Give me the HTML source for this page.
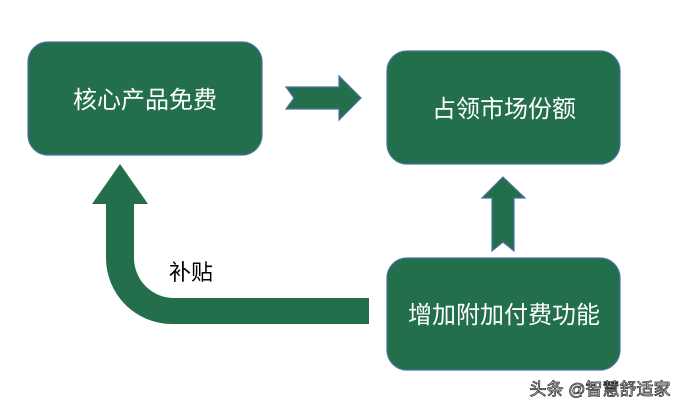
<!DOCTYPE html>
<html><head><meta charset="utf-8"><style>
body{margin:0;background:#fff;width:676px;height:413px;overflow:hidden}
</style></head><body>
<svg width="676" height="413" xmlns="http://www.w3.org/2000/svg" style="position:absolute;left:0;top:0">
<g fill="#236f4c" stroke="#4a6fa5" stroke-width="1.2">
<rect x="28" y="42" width="234" height="113" rx="20"/>
<rect x="387" y="51" width="233" height="113" rx="20"/>
<rect x="387" y="258" width="233" height="112" rx="20"/>
<path d="M286,87 L339,87 L339,76 L361,98 L339,120 L339,109 L286,109 L294,98 Z"/>
<path d="M503,177 L525,198 L514,198 L514,251 L503,242 L492,251 L492,198 L482,198 Z"/>
</g>
<path fill="#236f4c" d="M120,164 L148,204 L134,204 L134,258 A40,40 0 0 0 174,298 L369,298 L369,324 L172,324 A66,66 0 0 1 106,258 L106,204 L92,204 Z"/>
<g font-family="'Liberation Sans','Noto Sans CJK SC',sans-serif" font-size="24" fill="#fff" text-anchor="middle">
<text x="145" y="108">核心产品免费</text>
<text x="504" y="117">占领市场份额</text>
<text x="504" y="323">增加附加付费功能</text>
</g>
<text x="191" y="280" font-family="'Liberation Sans','Noto Sans CJK SC',sans-serif" font-size="22" fill="#000" text-anchor="middle">补贴</text>
<text x="600" y="395" font-family="'Liberation Sans','Noto Sans CJK SC',sans-serif" font-size="17" fill="#fff" stroke="#333" stroke-width="0.8" text-anchor="middle">头条 @智慧舒适家</text>
</svg>
</body></html>
